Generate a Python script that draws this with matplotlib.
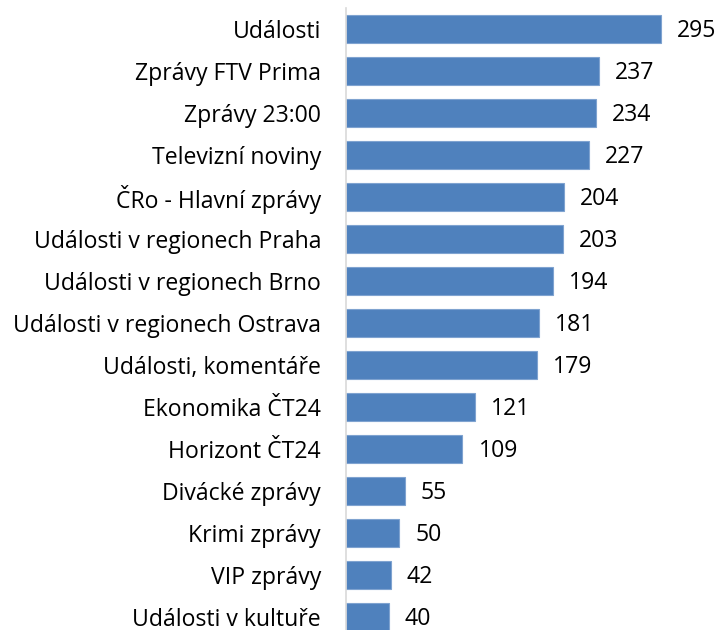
import matplotlib
matplotlib.use("Agg")
import matplotlib.pyplot as plt

categories = [
    "Události",
    "Zprávy FTV Prima",
    "Zprávy 23:00",
    "Televizní noviny",
    "ČRo - Hlavní zprávy",
    "Události v regionech Praha",
    "Události v regionech Brno",
    "Události v regionech Ostrava",
    "Události, komentáře",
    "Ekonomika ČT24",
    "Horizont ČT24",
    "Divácké zprávy",
    "Krimi zprávy",
    "VIP zprávy",
    "Události v kultuře",
]
values = [295, 237, 234, 227, 204, 203, 194, 181, 179, 121, 109, 55, 50, 42, 40]

plt.rcParams['font.family'] = ['Open Sans', 'DejaVu Sans']
FS = 16.6

fig = plt.figure(figsize=(7.2, 6.3), dpi=100)
ax = fig.add_axes([346 / 720, 0, 1 - 346 / 720, 1 - 8 / 630])

ypos = list(range(len(categories)))
ax.barh(ypos, values, height=0.67, color="#4F81BD", edgecolor="#7FA3D0", linewidth=0.8)

for y, v in zip(ypos, values):
    ax.text(v + 15, y + 0.05, str(v), va="center", ha="left", fontsize=FS, color="black")

ax.set_yticks(ypos)
ax.set_yticklabels(categories, fontsize=FS)
ax.tick_params(axis="y", length=0, pad=18)
ax.set_xticks([])
ax.set_xlim(0, 350)
ax.set_ylim(14.31, -0.5)

for s in ["top", "right", "bottom"]:
    ax.spines[s].set_visible(False)
ax.spines["left"].set_color("#D9D9D9")
ax.spines["left"].set_linewidth(1.2)

fig.savefig("out.png", dpi=100)
